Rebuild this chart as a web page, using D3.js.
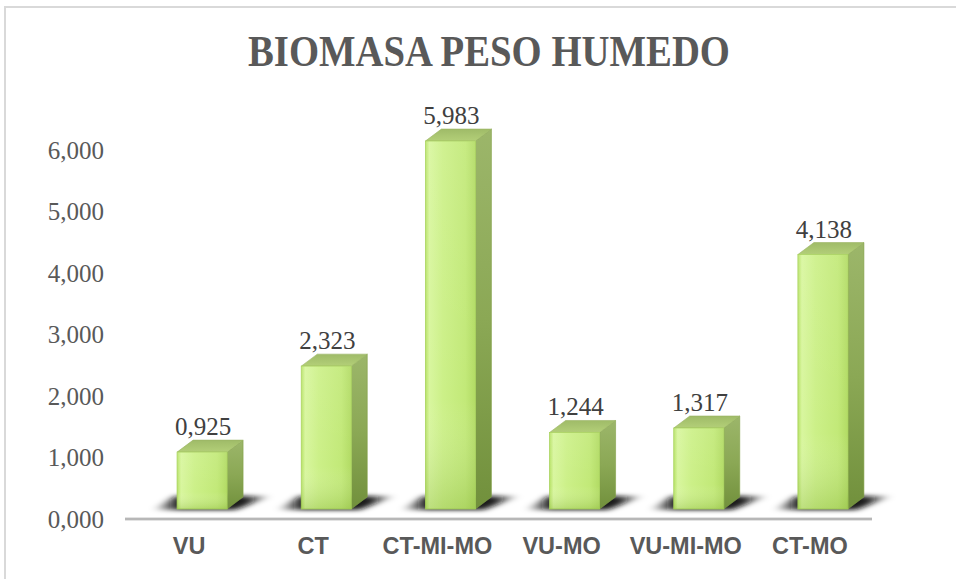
<!DOCTYPE html>
<html>
<head>
<meta charset="utf-8">
<script src="https://cdn.jsdelivr.net/npm/d3@7/dist/d3.min.js"></script>
<style>
  html, body { margin: 0; padding: 0; background: #fff; }
  svg { display: block; }
</style>
</head>
<body>
<div id="chart"></div>
<script>
// Chart data
const categories = ["VU", "CT", "CT-MI-MO", "VU-MO", "VU-MI-MO", "CT-MO"];
const values = [0.925, 2.323, 5.983, 1.244, 1.317, 4.138];
const tickValues = [0, 1, 2, 3, 4, 5, 6];
const title = "BIOMASA PESO HUMEDO";

const W = 956, H = 579;
const svg = d3.select("#chart").append("svg").attr("width", W).attr("height", H);
const defs = svg.append("defs");

// Comma as decimal separator, three decimals
const fmt = v => d3.format(".3f")(v).replace(".", ",");

// Scales: y maps value to the back-wall level; bars are drawn one depth step in front of it
const y = d3.scaleLinear().domain([0, 6]).range([519, 150]);
const x = d3.scaleBand().domain(categories).range([140, 885]).padding(0);
const barW = 50, depthX = 16, depthY = 12, frontDrop = 10;

// Outer chart frame
svg.append("path")
  .attr("d", `M5,${H + 5} L5,7 L${W + 5},7`)
  .attr("fill", "none").attr("stroke", "#d9d9d9").attr("stroke-width", 2);

// Title
svg.append("text")
  .attr("x", 489).attr("y", 66)
  .attr("text-anchor", "middle")
  .attr("font-family", "'Liberation Serif', 'DejaVu Serif', serif")
  .attr("font-weight", "bold").attr("font-size", 44)
  .attr("fill", "#595959")
  .attr("textLength", 482).attr("lengthAdjust", "spacingAndGlyphs")
  .text(title);

// Y axis labels (no line)
const yAxis = d3.axisLeft(y).tickValues(tickValues).tickFormat(fmt).tickSize(0).tickPadding(0);
const yg = svg.append("g").attr("transform", "translate(104,0)").call(yAxis);
yg.select(".domain").remove();
yg.selectAll("text")
  .attr("font-family", "'Liberation Serif', serif")
  .attr("font-size", 25).attr("fill", "#595959")
  .attr("dy", "0.33em");

// Floor/axis line
svg.append("line").attr("x1", 125).attr("x2", 872).attr("y1", 519).attr("y2", 519)
  .attr("stroke", "#c8c8c8").attr("stroke-width", 3);
svg.append("line").attr("x1", 125).attr("x2", 872).attr("y1", 519).attr("y2", 519)
  .attr("stroke", "#a6a6a6").attr("stroke-width", 1);

// Gradients and filter
const blur = defs.append("filter").attr("id", "shadowBlur")
  .attr("x", "-50%").attr("y", "-100%").attr("width", "200%").attr("height", "300%");
blur.append("feGaussianBlur").attr("stdDeviation", "4 2");

const frontGrad = defs.append("linearGradient").attr("id", "frontGrad").attr("x1", 0).attr("x2", 1).attr("y1", 0).attr("y2", 0);
[[0, "#b7e266"], [0.08, "#d8f69e"], [0.35, "#ccf088"], [0.8, "#c2e978"], [1, "#b2db64"]]
  .forEach(([o, c]) => frontGrad.append("stop").attr("offset", o).attr("stop-color", c));
const frontShade = defs.append("linearGradient").attr("id", "frontShade").attr("x1", 0).attr("x2", 0).attr("y1", 0).attr("y2", 1);
[[0, "#ffffff", 0.08], [0.7, "#ffffff", 0], [1, "#6c9a20", 0.25]]
  .forEach(([o, c, a]) => frontShade.append("stop").attr("offset", o).attr("stop-color", c).attr("stop-opacity", a));
const sideGrad = defs.append("linearGradient").attr("id", "sideGrad").attr("x1", 0).attr("x2", 0).attr("y1", 0).attr("y2", 1);
[[0, "#9cb66a"], [0.5, "#8ba855"], [1, "#71903c"]]
  .forEach(([o, c]) => sideGrad.append("stop").attr("offset", o).attr("stop-color", c));
const topGrad = defs.append("linearGradient").attr("id", "topGrad").attr("x1", 0).attr("x2", 0).attr("y1", 1).attr("y2", 0);
[[0, "#b3cf78"], [1, "#9fbb68"]]
  .forEach(([o, c]) => topGrad.append("stop").attr("offset", o).attr("stop-color", c));
const shadowGrad = defs.append("linearGradient").attr("id", "shadowGrad").attr("x1", 0).attr("x2", 1).attr("y1", 0).attr("y2", 0);
[[0, "#000", 0], [0.22, "#111", 0.95], [0.78, "#111", 0.95], [1, "#000", 0]]
  .forEach(([o, c, a]) => shadowGrad.append("stop").attr("offset", o).attr("stop-color", c).attr("stop-opacity", a));

const data = categories.map((c, i) => ({ cat: c, v: values[i] }));
const bars = svg.append("g").selectAll("g.bar").data(data).join("g").attr("class", "bar");

const baseY = y(0) - frontDrop;                  // bottom of the front face
const leftX = d => x(d.cat) + x.bandwidth() / 2 - barW / 2;
const topY = d => y(d.v) - frontDrop;            // top of the front face
const pts = arr => arr.map(p => p.join(",")).join(" ");

// Floor shadow behind each bar
bars.append("polygon")
  .attr("points", d => {
    const l = leftX(d);
    return pts([[l - 24, baseY + 1], [l + barW + 8, baseY + 1], [l + barW + depthX + 28, baseY - depthY - 1], [l - 2, baseY - depthY - 1]]);
  })
  .attr("fill", "url(#shadowGrad)")
  .attr("filter", "url(#shadowBlur)");

// Right side face
bars.append("polygon")
  .attr("points", d => {
    const l = leftX(d), t = topY(d);
    return pts([[l + barW, t], [l + barW + depthX, t - depthY], [l + barW + depthX, baseY - depthY], [l + barW, baseY]]);
  })
  .attr("fill", "url(#sideGrad)")
  .attr("stroke", "#7f9f45").attr("stroke-width", 0.6);

// Top face
bars.append("polygon")
  .attr("points", d => {
    const l = leftX(d), t = topY(d);
    return pts([[l, t], [l + depthX, t - depthY], [l + barW + depthX, t - depthY], [l + barW, t]]);
  })
  .attr("fill", "url(#topGrad)")
  .attr("stroke", "#9ab463").attr("stroke-width", 0.6);

// Front face
bars.append("rect")
  .attr("x", leftX).attr("y", topY)
  .attr("width", barW).attr("height", d => baseY - topY(d))
  .attr("fill", "url(#frontGrad)")
  .attr("stroke", "#a9d35c").attr("stroke-width", 0.8);
bars.append("rect")
  .attr("x", leftX).attr("y", topY)
  .attr("width", barW).attr("height", d => baseY - topY(d))
  .attr("fill", "url(#frontShade)");

// Value labels
bars.append("text")
  .attr("x", d => leftX(d) + barW / 2 + 1)
  .attr("y", d => topY(d) - depthY - 5)
  .attr("text-anchor", "middle")
  .attr("font-family", "'Liberation Serif', serif")
  .attr("font-size", 25).attr("fill", "#404040")
  .text(d => fmt(d.v));

// Category labels
const xAxis = d3.axisBottom(x).tickSize(0).tickPadding(0);
const xg = svg.append("g").attr("transform", "translate(-13,0)").call(xAxis);
xg.select(".domain").remove();
xg.selectAll("text")
  .attr("y", 554).attr("dy", null)
  .attr("font-family", "'Liberation Sans', Arial, sans-serif")
  .attr("font-weight", "bold").attr("font-size", 23.5).attr("fill", "#595959");
</script>
</body>
</html>
